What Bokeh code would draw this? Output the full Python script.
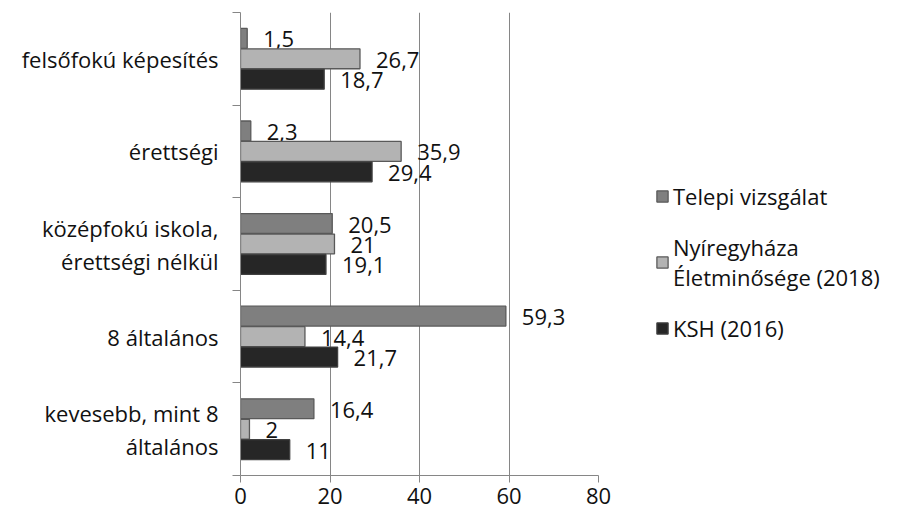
from bokeh.plotting import figure
from bokeh.models import (ColumnDataSource, Range1d, FixedTicker, Legend, LegendItem)
from bokeh.core.properties import value
from bokeh.embed import file_html
from bokeh.resources import INLINE

# ---- data ----
categories = ["kevesebb, mint 8\náltalános", "8 általános",
              "középfokú iskola,\nérettségi nélkül", "érettségi",
              "felsőfokú képesítés"]
series_names = ["Telepi vizsgálat", "Nyíregyháza\nÉletminősége (2018)", "KSH (2016)"]
telepi = [16.4, 59.3, 20.5, 2.3, 1.5]
nyiregyhaza = [2, 14.4, 21, 35.9, 26.7]
ksh = [11, 21.7, 19.1, 29.4, 18.7]
x_ticks = [0, 20, 40, 60, 80]

FONT = "Open Sans"
FS = "22px"
GRID = "#868686"
TXT = "#111111"

p = figure(frame_width=358, frame_height=463, output_backend="svg",
           toolbar_location=None, x_range=Range1d(0, 80), y_range=Range1d(0, 5),
           min_border_left=240, min_border_right=295, min_border_top=12,
           min_border_bottom=40)
p.outline_line_color = None
p.background_fill_color = "white"

def fmt(v):
    return ("%g" % v).replace(".", ",")

offsets = [0.221, 0.0, -0.221]
fills = ["#7f7f7f", "#b3b3b3", "#262626"]
lines = ["#595959", "#595959", "#404040"]
renderers = []
for vals, off, fc, lc in zip([telepi, nyiregyhaza, ksh], offsets, fills, lines):
    src = ColumnDataSource(dict(
        y=[i + 0.5 + off for i in range(len(categories))],
        x=vals,
        lab=[fmt(v) for v in vals]))
    r = p.hbar(y="y", right="x", left=0, height=0.215, source=src,
               fill_color=fc, line_color=lc, line_width=1.3)
    renderers.append(r)
    p.text(x="x", y="y", text="lab", source=src, x_offset=16, y_offset=1,
           text_align="left", text_baseline="middle",
           text_font=value(FONT), text_font_size=FS, text_color=TXT)

# x axis
p.xaxis.ticker = FixedTicker(ticks=x_ticks, minor_ticks=[])
p.xaxis.axis_line_color = GRID
p.xaxis.major_tick_line_color = GRID
p.xaxis.major_tick_out = 7
p.xaxis.major_tick_in = 0
p.xaxis.major_label_standoff = 5
p.xaxis.major_label_text_font = FONT
p.xaxis.major_label_text_font_size = FS
p.xaxis.major_label_text_color = TXT
p.xgrid.ticker = FixedTicker(ticks=x_ticks[1:])
p.xgrid.grid_line_color = GRID
p.ygrid.grid_line_color = None

# y axis
centers = [i + 0.5 for i in range(len(categories))]
bounds = [i for i in range(len(categories) + 1)]
p.yaxis.ticker = FixedTicker(ticks=centers, minor_ticks=bounds)
p.yaxis.major_label_overrides = {c: lab for c, lab in zip(centers, categories)}
p.yaxis.axis_line_color = GRID
p.yaxis.major_tick_line_color = None
p.yaxis.major_tick_out = 0
p.yaxis.major_tick_in = 0
p.yaxis.minor_tick_line_color = GRID
p.yaxis.minor_tick_out = 8
p.yaxis.minor_tick_in = 0
p.yaxis.major_label_standoff = 14
p.yaxis.major_label_text_font = FONT
p.yaxis.major_label_text_font_size = FS
p.yaxis.major_label_text_color = TXT
p.yaxis.major_label_text_line_height = 1.1

legend = Legend(items=[LegendItem(label=n, renderers=[r]) for n, r in zip(series_names, renderers)],
                location=(57, 132), orientation="vertical",
                label_text_font=FONT, label_text_font_size=FS,
                label_text_color=TXT, label_text_line_height=1.6,
                glyph_width=14, glyph_height=14, label_standoff=4,
                spacing=21, padding=0, margin=0,
                border_line_color=None, background_fill_alpha=0)
p.add_layout(legend, "right")

open("out.html", "w").write(file_html(p, INLINE))
